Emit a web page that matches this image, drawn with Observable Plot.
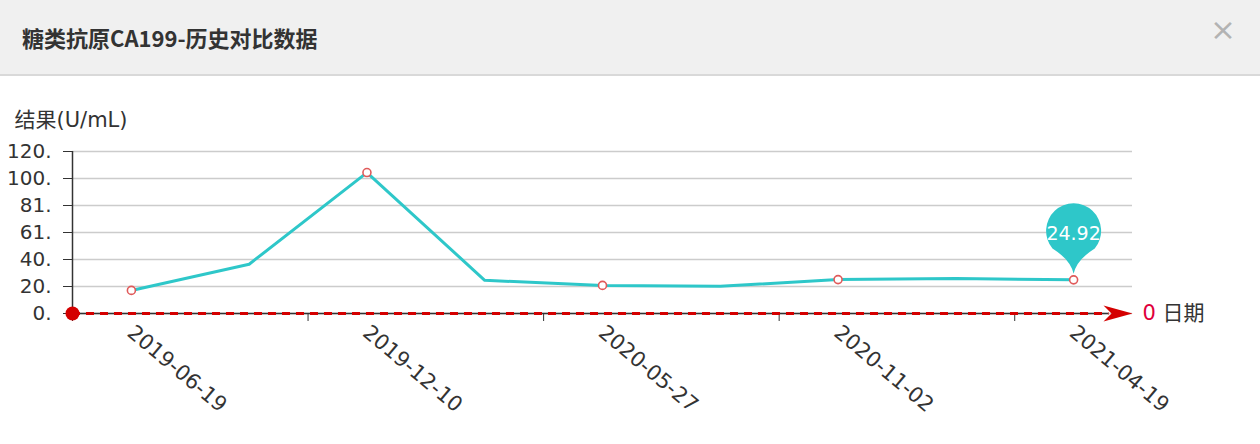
<!DOCTYPE html>
<html><head><meta charset="utf-8">
<script src="https://cdn.jsdelivr.net/npm/d3@7"></script>
<script src="https://cdn.jsdelivr.net/npm/@observablehq/plot@0.6"></script>
<style>
body{margin:0;background:#fff;width:1260px;height:444px;overflow:hidden;font-family:"DejaVu Sans","Noto Sans CJK SC",sans-serif;}
#hdr{position:relative;height:74px;background:#f0f0f0;border-bottom:2px solid #d9d9d9;}
#title{position:absolute;left:22px;top:21px;font-size:22px;font-weight:bold;color:#333;font-family:"Noto Sans CJK SC",sans-serif;line-height:32px;}
#close{position:absolute;left:1210px;top:9px;font-size:31px;color:#b3b3b3;line-height:40px;}
#chart svg{display:block;}
</style></head><body>
<div id="hdr"><div id="title">糖类抗原CA199-历史对比数据</div><div id="close">×</div></div>
<div id="chart"></div>
<script>
const values = [17.1, 36.5, 104.4, 24.6, 20.8, 20.1, 25.1, 26.0, 24.92];
const labelledDates = ["2019-06-19", "2019-12-10", "2020-05-27", "2020-11-02", "2021-04-19"];
const yTickValues = [0, 20, 40, 60, 80, 100, 120];
const yTickLabels = ["0.", "20.", "40.", "61.", "81.", "100.", "120."];
const yTitle = "结果(U/mL)";
const xEndValue = "0";
const xTitle = "日期";

const teal = "#2ec7c9", red = "#d40000", markerRed = "#e05a5a";
const xMin = -0.5, xMax = values.length - 0.5;
const boundaries = d3.range(xMin, xMax, 2);

const pin = {draw(ctx) {
  const cy = -49, r = 27.5, tipY = -6;
  const a = Math.acos(r / (tipY - cy));
  const aL = Math.PI / 2 + a, aR = Math.PI / 2 - a;
  ctx.moveTo(0, tipY);
  ctx.quadraticCurveTo(-3, tipY - 14, r * Math.cos(aL), cy + r * Math.sin(aL));
  ctx.arc(0, cy, r, aL, aR + 2 * Math.PI, false);
  ctx.quadraticCurveTo(3, tipY - 14, 0, tipY);
  ctx.closePath();
}};
const arrowHead = {draw(ctx) {
  ctx.moveTo(0, 0);
  ctx.lineTo(-29, -8);
  ctx.lineTo(-21, 0);
  ctx.lineTo(-29, 8);
  ctx.closePath();
}};

const chart = Plot.plot({
  width: 1260, height: 368,
  marginLeft: 72, marginRight: 128, marginTop: 75, marginBottom: 131,
  x: {domain: [xMin, xMax], axis: null},
  y: {domain: [0, 120], axis: null},
  style: {fontFamily: '"DejaVu Sans","Noto Sans CJK SC",sans-serif', fontSize: "20px", color: "#333", background: "#fff", overflow: "visible"},
  marks: [
    Plot.gridY(yTickValues, {stroke: "#cccccc", strokeOpacity: 1, strokeWidth: 1.5}),
    Plot.axisY(yTickValues, {tickFormat: d => yTickLabels[yTickValues.indexOf(d)], tickSize: 9, tickPadding: 12, stroke: "#333", fill: "#333", label: null}),
    Plot.ruleX([xMin], {y1: 0, y2: 120, stroke: "#333", strokeWidth: 1.5}),
    Plot.axisX(boundaries, {tickFormat: () => "", tickSize: 8, stroke: "#333", label: null}),
    Plot.ruleY([0], {x1: xMin, x2: xMax - 0.2, stroke: "#333", strokeWidth: 1.5}),
    Plot.ruleY([0], {x1: xMin, x2: xMax - 0.2, stroke: red, strokeWidth: 3, strokeDasharray: "8,6"}),
    Plot.dot([xMax], {x: d => d, y: 0, symbol: arrowHead, fill: red, stroke: "none"}),
    Plot.dot([xMin], {x: d => d, y: 0, r: 7, fill: red, stroke: "none"}),
    Plot.text(labelledDates, {x: (d, i) => i * 2, y: 0, dx: -1, dy: 16, rotate: 40, textAnchor: "start", fill: "#333", fontSize: 21}),
    Plot.text([xEndValue], {x: () => xMax, y: 0, dx: 10, textAnchor: "start", fill: "#e0003c", fontSize: 21}),
    Plot.text([xTitle], {x: () => xMax, y: 0, dx: 30, textAnchor: "start", fill: "#333", fontSize: 21}),
    Plot.text([yTitle], {frameAnchor: "top-left", dx: -58, dy: -39, textAnchor: "start", fill: "#333", fontSize: 21}),
    Plot.line(values, {x: (d, i) => i, y: d => d, stroke: teal, strokeWidth: 3}),
    Plot.dot([values.length - 1], {x: d => d, y: d => values[d], symbol: pin, fill: teal, stroke: "none"}),
    Plot.text([values[values.length - 1]], {x: () => values.length - 1, y: d => d, dy: -46, text: d => String(d), fill: "#fff", fontSize: 19}),
    Plot.dot(values, {filter: (d, i) => i % 2 === 0, x: (d, i) => i, y: d => d, r: 4, stroke: markerRed, fill: "#fff", strokeWidth: 1.6})
  ]
});
document.getElementById("chart").appendChild(chart);
</script>
</body></html>
